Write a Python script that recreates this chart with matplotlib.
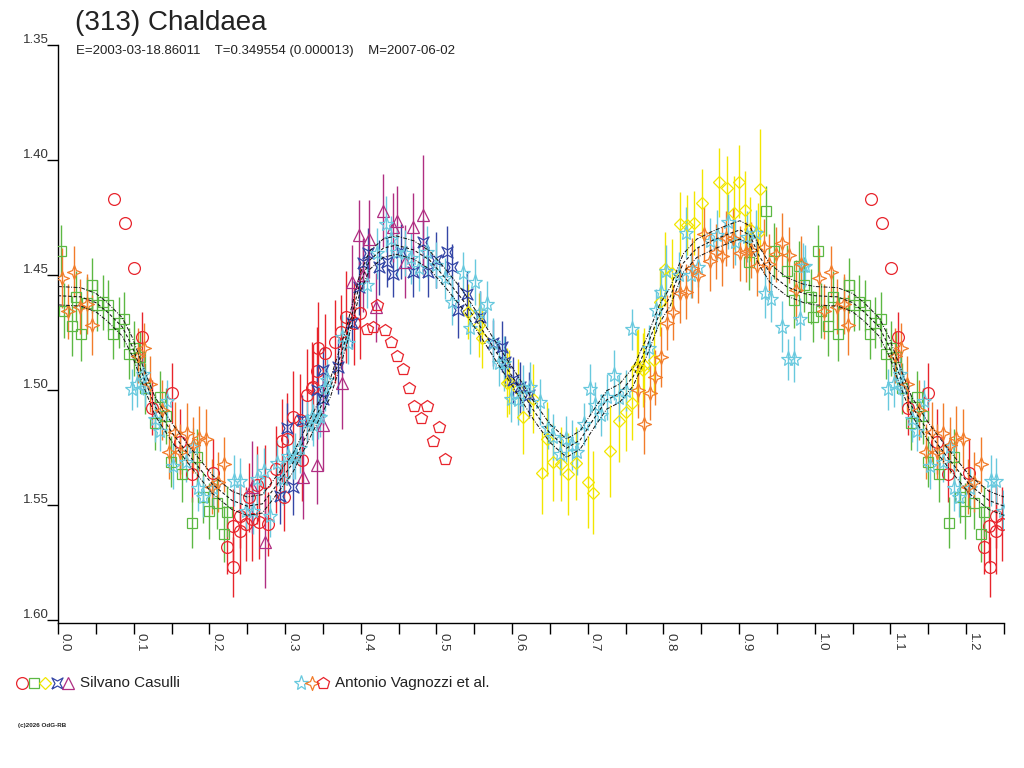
import numpy as np
import matplotlib
matplotlib.use('Agg')
import matplotlib.pyplot as plt
import matplotlib.transforms as mtransforms
from matplotlib.lines import Line2D

plt.rcParams['font.family'] = ['Liberation Sans', 'DejaVu Sans']

title = '(313) Chaldaea'
subtitle = 'E=2003-03-18.86011    T=0.349554 (0.000013)    M=2007-06-02'
observer_1 = 'Silvano Casulli'
observer_2 = 'Antonio Vagnozzi et al.'

# Casulli, session 1 (red circles)
cas1_phase = [0.0744, 0.089, 0.1004, 0.1105, 0.1237, 0.150, 0.161, 0.1766, 0.2043, 0.2236,
              0.2306, 0.2316, 0.240, 0.240, 0.248, 0.2527, 0.2558, 0.2633, 0.266, 0.2734,
              0.278, 0.288, 0.2955, 0.2985, 0.303, 0.311, 0.3197, 0.322, 0.3285, 0.335,
              0.3364, 0.3425, 0.344, 0.3527, 0.366, 0.3735, 0.381, 0.391, 0.399]
cas1_mag = [1.4171, 1.4273, 1.4471, 1.4771, 1.5077, 1.5012, 1.5224, 1.5365, 1.5362, 1.5681,
            1.5591, 1.5768, 1.5612, 1.5548, 1.5583, 1.5467, 1.5562, 1.5413, 1.5573, 1.5399,
            1.5583, 1.5345, 1.5220, 1.5464, 1.5214, 1.5116, 1.5130, 1.5304, 1.5022, 1.4993,
            1.4986, 1.4916, 1.4819, 1.4840, 1.4790, 1.4747, 1.4681, 1.4710, 1.4667]
cas1_err = [0, 0, 0, 0.011, 0.012, 0.013, 0.014, 0.012, 0.015, 0.012,
            0.016, 0.013, 0.019, 0.014, 0.016, 0.015, 0.018, 0.017, 0.016, 0.016,
            0.014, 0.019, 0.018, 0.015, 0.020, 0.020, 0.020, 0.018, 0.020, 0.020,
            0.018, 0.019, 0.020, 0.017, 0.018, 0.016, 0.020, 0.018, 0.020]

# Casulli, session 2 (green squares)
cas2_phase = [0.0036, 0.0084, 0.018, 0.0238, 0.031, 0.0384, 0.0455, 0.0517, 0.059, 0.0658,
              0.073, 0.080, 0.0874, 0.094, 0.1007, 0.1077, 0.1152, 0.1276, 0.135, 0.143,
              0.149, 0.164, 0.1775, 0.1837, 0.1916, 0.199, 0.210, 0.219, 0.2234,
              0.913, 0.936, 0.9466, 0.963, 0.9726, 0.979, 0.986, 0.9947, 0.998]
cas2_mag = [1.4394, 1.4655, 1.4720, 1.4594, 1.4755, 1.4620, 1.4545, 1.4632, 1.4619, 1.4632,
            1.4755, 1.4707, 1.4693, 1.4842, 1.4819, 1.4855, 1.4993, 1.5142, 1.5029, 1.5113,
            1.5312, 1.5365, 1.5577, 1.5290, 1.5467, 1.5526, 1.5493, 1.5626, 1.5529,
            1.4445, 1.4222, 1.4396, 1.4481, 1.4609, 1.4460, 1.4543, 1.4594, 1.4681]
cas2_err = [0.011, 0.012, 0.013, 0.011, 0.012, 0.011, 0.012, 0.011, 0.012, 0.011,
            0.011, 0.011, 0.012, 0.011, 0.012, 0.011, 0.011, 0.012, 0.011, 0.012,
            0.011, 0.012, 0.011, 0.012, 0.011, 0.012, 0.011, 0.012, 0.011,
            0.012, 0.011, 0.012, 0.011, 0.012, 0.011, 0.012, 0.012, 0.011]

# Casulli, session 3 (yellow diamonds)
cas3_phase = [0.542, 0.5566, 0.5597, 0.5935, 0.596, 0.608, 0.615, 0.628, 0.639, 0.6455,
              0.654, 0.665, 0.674, 0.684, 0.7005, 0.707, 0.729, 0.7415, 0.751, 0.758,
              0.7645, 0.7666, 0.773, 0.774, 0.787, 0.795, 0.802, 0.811, 0.8225, 0.831,
              0.8406, 0.8516, 0.8735, 0.8846, 0.893, 0.900, 0.9075, 0.914, 0.925, 0.928]
cas3_mag = [1.4660, 1.4717, 1.4775, 1.4968, 1.4964, 1.4997, 1.5119, 1.5039, 1.5360, 1.5214,
            1.5312, 1.5322, 1.5365, 1.5319, 1.5401, 1.5447, 1.5264, 1.5134, 1.5094, 1.5058,
            1.4899, 1.4906, 1.4913, 1.4891, 1.4870, 1.4616, 1.4475, 1.4493, 1.4278, 1.4283,
            1.4273, 1.4188, 1.4097, 1.4123, 1.4229, 1.4094, 1.4217, 1.4301, 1.4319, 1.4127]
cas3_err = [0.012, 0.014, 0.013, 0.015, 0.014, 0.013, 0.016, 0.015, 0.018, 0.016,
            0.017, 0.016, 0.018, 0.016, 0.020, 0.018, 0.020, 0.018, 0.017, 0.016,
            0.016, 0.017, 0.016, 0.016, 0.015, 0.015, 0.016, 0.015, 0.014, 0.013,
            0.014, 0.015, 0.015, 0.014, 0.016, 0.016, 0.017, 0.014, 0.013, 0.026]

# Casulli, session 4 (blue)
cas4_phase = [0.293, 0.303, 0.311, 0.322, 0.342, 0.3497, 0.3505, 0.370, 0.388, 0.398,
              0.403, 0.410, 0.4245, 0.435, 0.442, 0.4527, 0.4685, 0.4818, 0.489, 0.500,
              0.514, 0.521, 0.529, 0.540, 0.5575, 0.575, 0.587, 0.590, 0.601, 0.611, 0.6226]
cas4_mag = [1.5461, 1.5167, 1.5423, 1.5130, 1.5000, 1.5041, 1.4913, 1.4899, 1.4710, 1.4553,
            1.4449, 1.4406, 1.4467, 1.4442, 1.4496, 1.4399, 1.4486, 1.4355, 1.4486, 1.4435,
            1.4399, 1.4467, 1.4652, 1.4583, 1.4681, 1.4797, 1.4812, 1.4877, 1.4957, 1.4989, 1.5022]
cas4_err = [0.012, 0.011, 0.012, 0.011, 0.011, 0.011, 0.010, 0.012, 0.011, 0.012,
            0.010, 0.011, 0.012, 0.011, 0.010, 0.012, 0.011, 0.010, 0.011, 0.012,
            0.011, 0.010, 0.012, 0.010, 0.011, 0.010, 0.011, 0.011, 0.010, 0.011, 0.010]

# Casulli, session 5 (purple triangles)
cas5_phase = [0.2559, 0.2734, 0.324, 0.3425, 0.3497, 0.3747, 0.388, 0.398, 0.403, 0.411,
              0.420, 0.4288, 0.442, 0.448, 0.458, 0.4685, 0.4818]
cas5_mag = [1.5420, 1.5662, 1.5380, 1.5326, 1.5152, 1.4971, 1.4529, 1.4326, 1.4500, 1.4345,
            1.4640, 1.4220, 1.4293, 1.4265, 1.4442, 1.4293, 1.4239]
cas5_err = [0.020, 0.020, 0.018, 0.017, 0.020, 0.020, 0.016, 0.015, 0.016, 0.017,
            0.015, 0.016, 0.015, 0.015, 0.016, 0.015, 0.026]

# Vagnozzi, session 1 (cyan stars)
vag1_phase = [0.0973, 0.105, 0.1127, 0.1152, 0.128, 0.1347, 0.1445, 0.1523, 0.169, 0.178,
              0.1845, 0.191, 0.205, 0.2325, 0.240, 0.249, 0.258, 0.263, 0.2725, 0.280,
              0.289, 0.297, 0.304, 0.311, 0.313, 0.3197, 0.3285, 0.336, 0.337, 0.344,
              0.346, 0.3527, 0.355, 0.3748, 0.3835, 0.4086, 0.4218, 0.4333, 0.4395, 0.448,
              0.458, 0.467, 0.477, 0.488, 0.500, 0.511, 0.520, 0.5346, 0.5443, 0.551,
              0.5575, 0.567, 0.575, 0.583, 0.589, 0.599, 0.608, 0.615, 0.6235, 0.6375,
              0.6477, 0.654, 0.663, 0.671, 0.6786, 0.686, 0.695, 0.703, 0.709, 0.718,
              0.7257, 0.7345, 0.7415, 0.750, 0.758, 0.781, 0.790, 0.797, 0.804, 0.821,
              0.8296, 0.837, 0.846, 0.861, 0.871, 0.8855, 0.894, 0.911, 0.922, 0.934,
              0.942, 0.957, 0.965, 0.973, 0.981, 0.9846, 0.9868]
vag1_mag = [1.4997, 1.4974, 1.4930, 1.4993, 1.5127, 1.5177, 1.5046, 1.5330, 1.5312, 1.5246,
            1.5427, 1.5464, 1.5427, 1.5394, 1.5394, 1.5525, 1.5525, 1.5388, 1.5352, 1.5548,
            1.5319, 1.5388, 1.5287, 1.5297, 1.5287, 1.5253, 1.5138, 1.5116, 1.5152, 1.5112,
            1.5116, 1.4993, 1.4957, 1.4768, 1.4797, 1.4543, 1.4406, 1.4278, 1.4345, 1.4399,
            1.4406, 1.4427, 1.4471, 1.4399, 1.4457, 1.4514, 1.4616, 1.4490, 1.4732, 1.4529,
            1.4660, 1.4626, 1.4797, 1.4884, 1.4884, 1.5041, 1.5043, 1.4993, 1.4989, 1.5051,
            1.5167, 1.5206, 1.5278, 1.5214, 1.5239, 1.5268, 1.5148, 1.4997, 1.5065, 1.5109,
            1.5032, 1.4935, 1.5036, 1.5003, 1.4736, 1.4819, 1.4652, 1.4572, 1.4481, 1.4500,
            1.4316, 1.4500, 1.4464, 1.4351, 1.4326, 1.4268, 1.4355, 1.4333, 1.4319, 1.4577,
            1.4604, 1.4725, 1.4867, 1.4867, 1.4691, 1.4461, 1.4460]
vag1_err = [0.009, 0.010, 0.009, 0.008, 0.010, 0.009, 0.009, 0.010, 0.009, 0.008,
            0.010, 0.009, 0.009, 0.011, 0.010, 0.009, 0.010, 0.011, 0.010, 0.009,
            0.010, 0.011, 0.010, 0.009, 0.010, 0.011, 0.009, 0.010, 0.009, 0.010,
            0.009, 0.010, 0.009, 0.010, 0.009, 0.010, 0.011, 0.012, 0.010, 0.011,
            0.010, 0.011, 0.010, 0.011, 0.010, 0.009, 0.010, 0.009, 0.011, 0.010,
            0.009, 0.010, 0.011, 0.010, 0.012, 0.010, 0.011, 0.010, 0.011, 0.010,
            0.009, 0.010, 0.009, 0.010, 0.011, 0.010, 0.009, 0.011, 0.010, 0.009,
            0.010, 0.011, 0.010, 0.009, 0.009, 0.010, 0.009, 0.010, 0.011, 0.010,
            0.011, 0.010, 0.009, 0.010, 0.011, 0.012, 0.010, 0.011, 0.010, 0.011,
            0.010, 0.011, 0.009, 0.010, 0.009, 0.010, 0.009]

# Vagnozzi, session 2 (orange)
vag2_phase = [0.005, 0.0128, 0.021, 0.029, 0.038, 0.0445, 0.106, 0.114, 0.1215, 0.1378,
              0.147, 0.155, 0.161, 0.170, 0.179, 0.186, 0.196, 0.203, 0.211, 0.219,
              0.767, 0.774, 0.782, 0.789, 0.797, 0.805, 0.813, 0.822, 0.830, 0.838,
              0.846, 0.853, 0.861, 0.869, 0.877, 0.883, 0.892, 0.901, 0.909, 0.916,
              0.924, 0.933, 0.940, 0.949, 0.957, 0.966, 0.975, 0.982]
vag2_mag = [1.4514, 1.4657, 1.4486, 1.4638, 1.4626, 1.4717, 1.4850, 1.4819, 1.4974, 1.5087,
            1.5268, 1.5181, 1.5268, 1.5186, 1.5239, 1.5210, 1.5214, 1.5420, 1.5399, 1.5323,
            1.5000, 1.5148, 1.5012, 1.4945, 1.4855, 1.4707, 1.4662, 1.4577, 1.4573, 1.4471,
            1.4500, 1.4323, 1.4438, 1.4399, 1.4417, 1.4340, 1.4340, 1.4406, 1.4401, 1.4391,
            1.4460, 1.4377, 1.4452, 1.4410, 1.4360, 1.4413, 1.4565, 1.4452]
vag2_err = [0.013, 0.012, 0.011, 0.012, 0.013, 0.013, 0.012, 0.011, 0.012, 0.013,
            0.012, 0.013, 0.012, 0.013, 0.012, 0.014, 0.013, 0.012, 0.013, 0.012,
            0.012, 0.013, 0.012, 0.012, 0.013, 0.012, 0.012, 0.013, 0.012, 0.013,
            0.012, 0.012, 0.013, 0.012, 0.013, 0.012, 0.013, 0.012, 0.013, 0.012,
            0.013, 0.012, 0.013, 0.012, 0.013, 0.012, 0.013, 0.012]

# Vagnozzi, session 3 (red pentagons, no error bars)
vag3_phase = [0.408, 0.416, 0.421, 0.432, 0.440, 0.448, 0.456, 0.464, 0.471, 0.479,
              0.487, 0.495, 0.503, 0.511]
vag3_mag = [1.4735, 1.4726, 1.4630, 1.4740, 1.4790, 1.4850, 1.4910, 1.4990, 1.5070, 1.5120,
            1.5070, 1.5220, 1.5160, 1.5300]
vag3_err = [0.0] * len(vag3_phase)

fit_phase = [0.000, 0.030, 0.050, 0.065, 0.085, 0.098, 0.111, 0.128, 0.151, 0.177,
             0.204, 0.230, 0.250, 0.270, 0.284, 0.310, 0.337, 0.360, 0.381, 0.399,
             0.412, 0.430, 0.447, 0.470, 0.491, 0.514, 0.535, 0.558, 0.580, 0.602,
             0.628, 0.650, 0.672, 0.690, 0.707, 0.725, 0.742, 0.760, 0.778, 0.795,
             0.809, 0.826, 0.844, 0.866, 0.888, 0.901, 0.914, 0.927, 0.941, 0.963,
             0.985, 1.000]
fit_mag = [1.4590, 1.4595, 1.4620, 1.4660, 1.4726, 1.4810, 1.4926, 1.5070, 1.5187, 1.5300,
           1.5410, 1.5480, 1.5505, 1.5495, 1.5435, 1.5320, 1.5140, 1.4990, 1.4770, 1.4535,
           1.4435, 1.4383, 1.4370, 1.4391, 1.4435, 1.4522, 1.4609, 1.4725, 1.4840, 1.4950,
           1.5087, 1.5188, 1.5253, 1.5217, 1.5130, 1.5043, 1.5014, 1.4942, 1.4812, 1.4667,
           1.4594, 1.4449, 1.4384, 1.4348, 1.4319, 1.4304, 1.4326, 1.4420, 1.4493, 1.4551,
           1.4580, 1.4590]
fit_band = 0.004

PHASE_MAX = 1.25

RED = '#e8242c'
GREEN = '#5cb843'
YELLOW = '#f2e600'
BLUE = '#3446a6'
PURPLE = '#b02e82'
CYAN = '#68c9de'
ORANGE = '#f27c2a'

# custom 4-point markers
star4_diag = [(-1, -1), (0, -0.45), (1, -1), (0.45, 0), (1, 1), (0, 0.45),
              (-1, 1), (-0.45, 0), (-1, -1)]
star4_axis = [(0, 1), (0.28, 0.28), (1, 0), (0.28, -0.28), (0, -1), (-0.28, -0.28),
              (-1, 0), (-0.28, 0.28), (0, 1)]

series = [
    (cas1_phase, cas1_mag, cas1_err, RED, 'o', 8.5),
    (cas2_phase, cas2_mag, cas2_err, GREEN, 's', 7.5),
    (cas3_phase, cas3_mag, cas3_err, YELLOW, 'D', 6.5),
    (cas4_phase, cas4_mag, cas4_err, BLUE, star4_diag, 8),
    (cas5_phase, cas5_mag, cas5_err, PURPLE, '^', 8),
    (vag1_phase, vag1_mag, vag1_err, CYAN, '*', 11),
    (vag2_phase, vag2_mag, vag2_err, ORANGE, star4_axis, 10),
    (vag3_phase, vag3_mag, vag3_err, RED, 'p', 9),
]


def wrap(ph, *cols):
    # repeat the first part of the cycle after phase 1.0
    ph = np.asarray(ph, dtype=float)
    keep = ph + 1.0 <= PHASE_MAX
    out = [np.concatenate([ph, ph[keep] + 1.0])]
    for c in cols:
        c = np.asarray(c, dtype=float)
        out.append(np.concatenate([c, c[keep]]))
    return out


fig = plt.figure(figsize=(10.24, 7.68), dpi=100)
ax = fig.add_axes([58 / 1024, 1 - 623 / 768, 946 / 1024, 578 / 768])

for ph, mg, er, col, mk, ms in series:
    x, y, e = wrap(ph, mg, er)
    ax.errorbar(x, y, yerr=e, fmt='none', ecolor=col, elinewidth=1.0, capsize=0, zorder=2)
    ax.plot(x, y, ls='none', marker=mk, ms=ms, mfc='none', mec=col, mew=0.9, zorder=3)

fx, fy = wrap(fit_phase[:-1], fit_mag[:-1])
order = np.argsort(fx)
fx, fy = fx[order], fy[order]
ax.plot(fx, fy, color='#111111', lw=0.75, ls=(0, (3, 2)), zorder=4)
ax.plot(fx, fy - fit_band, color='#111111', lw=0.7, ls=(0, (4, 1.5, 1, 1.5)), zorder=4)
ax.plot(fx, fy + fit_band, color='#111111', lw=0.7, ls=(0, (4, 1.5, 1, 1.5)), zorder=4)

ax.set_xlim(0, PHASE_MAX)
ax.set_ylim(1.6013, 1.35)
for s in ['top', 'right']:
    ax.spines[s].set_visible(False)
for s in ['left', 'bottom']:
    ax.spines[s].set_linewidth(1.0)

yt = [1.35, 1.40, 1.45, 1.50, 1.55, 1.60]
ax.set_yticks(yt)
ax.tick_params(axis='y', direction='out', length=8, width=1, labelleft=False)
ylab_tr = mtransforms.offset_copy(ax.get_yaxis_transform(), fig=fig, x=-9, y=5, units='dots')
for v in yt:
    ax.text(0, v, '%.2f' % v, transform=ylab_tr, ha='right', va='center',
            fontsize=9.5, color='#333333')

xt = np.round(np.arange(0, 1.21, 0.1), 2)
ax.set_xticks(xt)
ax.set_xticks(np.round(np.arange(0.05, 1.26, 0.1), 2), minor=True)
ax.tick_params(axis='x', which='both', direction='out', length=8, width=1, labelbottom=False)
xlab_tr = mtransforms.offset_copy(ax.get_xaxis_transform(), fig=fig, x=1, y=-10, units='dots')
for v in xt:
    ax.text(v, 0, '%.1f' % v, transform=xlab_tr, ha='left', va='top', rotation=-90,
            fontsize=9.5, color='#333333')

fig.text(75 / 1024, 1 - 30 / 768, title, fontsize=20, color='#222222', va='baseline')
fig.text(76 / 1024, 1 - 54 / 768, subtitle, fontsize=9.5, color='#222222', va='baseline')

# legend drawn in figure pixels
leg_y = 1 - 683 / 768
leg1 = [(22, 'o', RED, 8.5), (34, 's', GREEN, 7.5), (45, 'D', YELLOW, 6.5),
        (57, star4_diag, BLUE, 8), (68, '^', PURPLE, 8)]
leg2 = [(301, '*', CYAN, 11), (312, star4_axis, ORANGE, 10), (323, 'p', RED, 9)]
for px, mk, col, ms in leg1 + leg2:
    fig.add_artist(Line2D([px / 1024], [leg_y], transform=fig.transFigure, ls='none',
                          marker=mk, ms=ms, mfc='none', mec=col, mew=0.9))
fig.text(80 / 1024, leg_y, observer_1, fontsize=11, color='#222222', va='center')
fig.text(335 / 1024, leg_y, observer_2, fontsize=11, color='#222222', va='center')

fig.text(18 / 1024, 1 - 726 / 768, '(c)2026 OdG-RB', fontsize=4.5, fontweight='bold',
         color='#222222', va='center')

fig.savefig('out.png', dpi=100)
